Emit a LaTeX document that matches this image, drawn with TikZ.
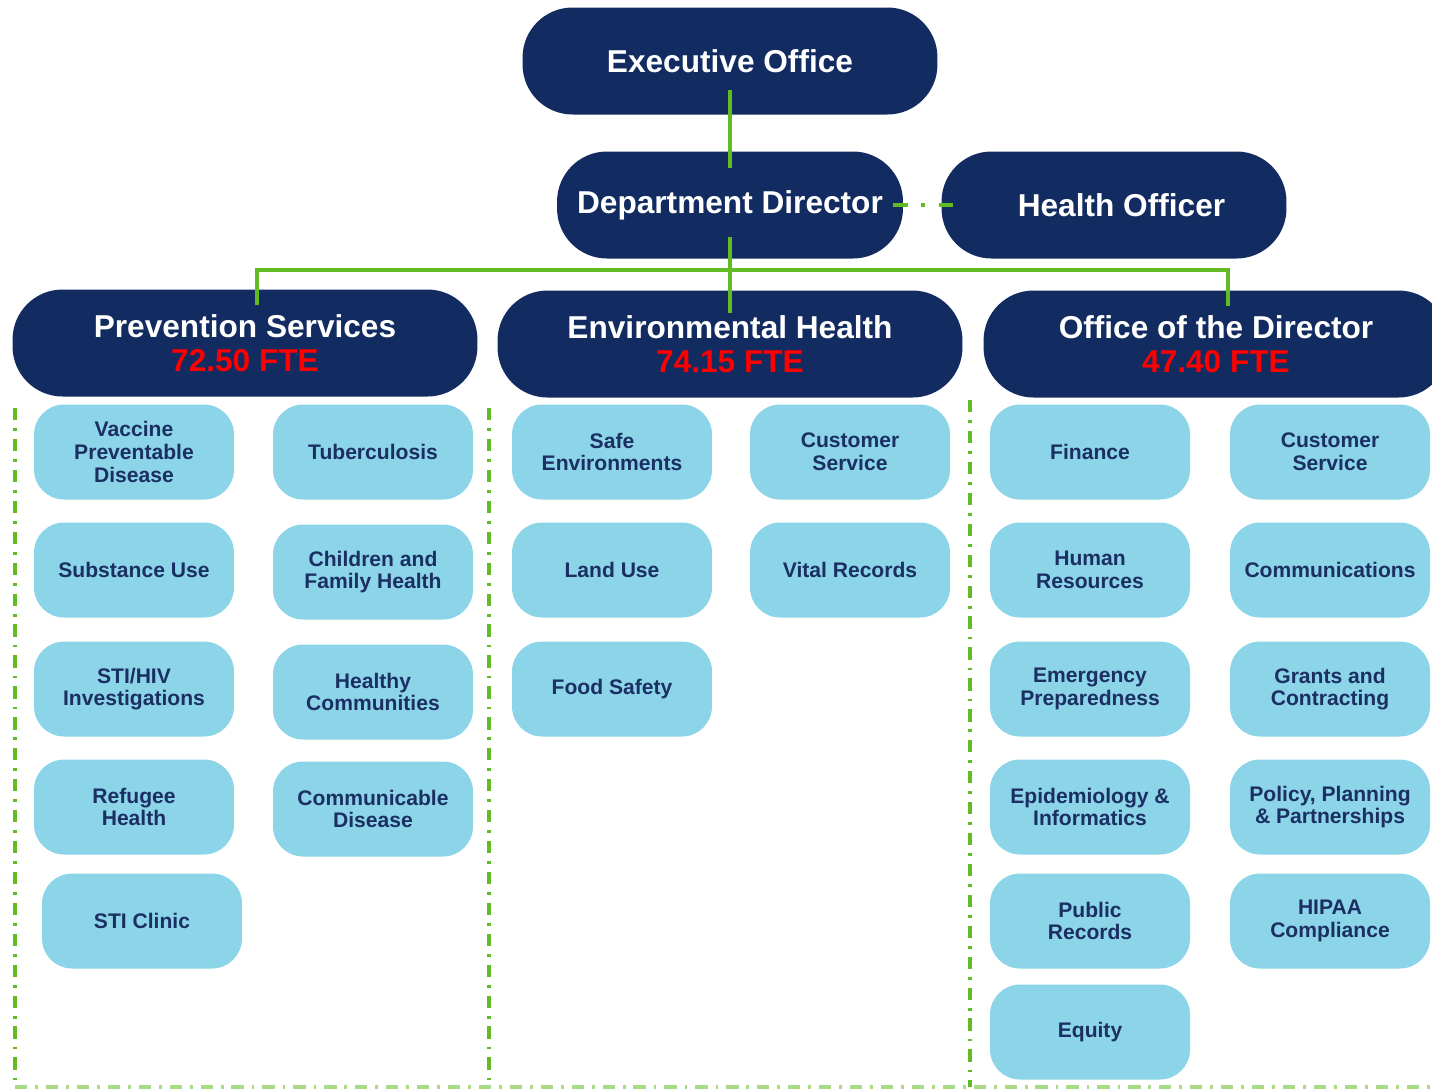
\documentclass[tikz,border=0pt]{standalone}
\usepackage{fontspec}
\setmainfont{Liberation Sans}
\definecolor{navy}{HTML}{122C61}
\definecolor{unitblue}{HTML}{8CD4E8}
\definecolor{unittext}{HTML}{1B2F63}
\definecolor{leaf}{HTML}{62BB22}
\begin{document}
\begin{tikzpicture}[x=0.02cm,y=-0.02cm,
	head/.style={fill=navy,rounded corners=1cm,text=white,align=center,
		font=\fontsize{18}{19}\selectfont\bfseries,minimum height=2.14cm,inner sep=0pt},
	unit/.style={fill=unitblue,rounded corners=0.6cm,text=unittext,align=center,
		font=\fontsize{12}{13}\selectfont\bfseries,minimum width=4cm,minimum height=1.9cm,inner sep=0pt},
	tree/.style={draw=leaf,line width=2.3pt},
	sep/.style={draw=leaf,line width=2pt,dash pattern=on 7pt off 4.5pt on 1.6pt off 4.5pt}]
	\useasboundingbox (0,0) rectangle (1432,1090);
	\clip (0,0) rectangle (1432,1090);
	% top of the chart
	\node[head,minimum width=8.3cm] (eo) at (730,61) {Executive Office};
	\node[head,minimum width=6.92cm] (dd) at (730,205) {Department Director};
	\node[head,minimum width=6.9cm] (ho) at (1114,205) {\hspace*{0.3cm}Health Officer};
	% divisions
	\node[head,minimum width=9.3cm] (ps) at (245,343) {Prevention Services\\\textcolor{red}{72.50 FTE}};
	\node[head,minimum width=9.3cm] (eh) at (730,344) {Environmental Health\\\textcolor{red}{74.15 FTE}};
	\node[head,minimum width=9.3cm] (od) at (1216,344) {Office of the Director\\\textcolor{red}{47.40 FTE}};
	% prevention services
	\node[unit] (vpd) at (134,452) {Vaccine\\Preventable\\Disease};
	\node[unit] (sub) at (134,570) {Substance Use};
	\node[unit] (sti) at (134,689) {STI/HIV\\Investigations};
	\node[unit] (ref) at (134,807) {Refugee\\Health};
	\node[unit] (stic) at (142,921) {STI Clinic};
	\node[unit] (tb) at (373,452) {Tuberculosis};
	\node[unit] (cfh) at (373,572) {Children and\\Family Health};
	\node[unit] (hc) at (373,692) {Healthy\\Communities};
	\node[unit] (cd) at (373,809) {Communicable\\Disease};
	% environmental health
	\node[unit] (se) at (612,452) {Safe\\Environments};
	\node[unit] (lu) at (612,570) {Land Use};
	\node[unit] (fs) at (612,689) {Food Safety};
	\node[unit] (cse) at (850,452) {Customer\\Service};
	\node[unit] (vr) at (850,570) {Vital Records};
	% office of the director
	\node[unit] (fin) at (1090,452) {Finance};
	\node[unit] (hr) at (1090,570) {Human\\Resources};
	\node[unit] (ep) at (1090,689) {Emergency\\Preparedness};
	\node[unit] (epi) at (1090,807) {Epidemiology \&\\Informatics};
	\node[unit] (pr) at (1090,921) {Public\\Records};
	\node[unit] (eq) at (1090,1032) {Equity};
	\node[unit] (cso) at (1330,452) {Customer\\Service};
	\node[unit] (com) at (1330,570) {Communications};
	\node[unit] (gc) at (1330,689) {Grants and\\Contracting};
	\node[unit] (ppp) at (1330,807) {Policy, Planning\\\& Partnerships};
	\node[unit] (hip) at (1330,921) {HIPAA\\Compliance};
	% connectors
	\coordinate (bus) at (731,270);
	\draw[tree] ([yshift=-0.58cm]eo.center) -- ([yshift=0.74cm]dd.center);
	\draw[tree] ([yshift=-0.64cm]dd.center) -- ([yshift=0.62cm]eh.center);
	\draw[tree] ([xshift=0.24cm,yshift=0.76cm]ps.center) |- (bus) -| ([xshift=0.24cm,yshift=0.76cm]od.center);
	\draw[draw=leaf,line width=2.3pt,dash pattern=on 8.5pt off 7.5pt on 2.3pt off 7.5pt]
		([xshift=-0.2cm]dd.east) -- ([xshift=0.24cm]ho.west);
	% dividers
	\coordinate (sa) at (15,408);
	\coordinate (sb) at (489,408);
	\coordinate (sc) at (970,400);
	\coordinate (ba) at (15,1087);
	\coordinate (bb) at (489,1087);
	\coordinate (bc) at (970,1087);
	\coordinate (bd) at (1432,1087);
	\draw[sep] (sa) -- (ba);
	\draw[sep] (sb) -- (bb);
	\draw[sep] (sc) -- (bc);
	\draw[sep,draw=leaf!55] (ba) -- (bd);
\end{tikzpicture}
\end{document}
